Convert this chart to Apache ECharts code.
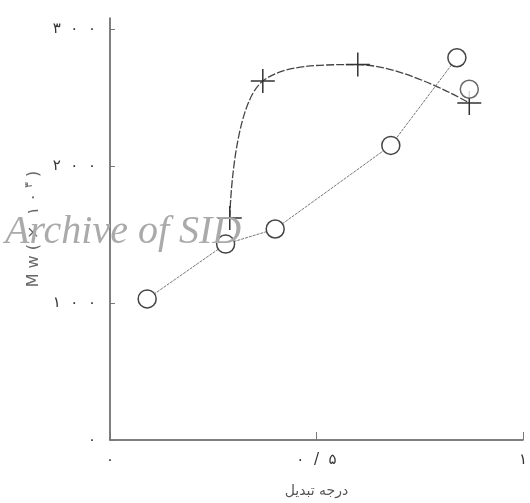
<!DOCTYPE html>
<html>
<head>
<meta charset="utf-8">
<script src="https://cdn.jsdelivr.net/npm/echarts@6/dist/echarts.min.js"></script>
<style>
  html, body { margin: 0; padding: 0; background: #fff; }
  #chart { width: 530px; height: 503px; }
</style>
</head>
<body>
<div id="chart"></div>
<script>
// Molecular weight against degree of conversion
const circleX = [0.09, 0.28, 0.40, 0.68, 0.84, 0.87];
const circleY = [103, 143, 154, 215, 279, 256];
const circleJoined = 5;            // first five circles are joined by a line

const crossX = [0.29, 0.37, 0.60, 0.87];
const crossY = [162, 262, 274, 246];

const xTickValues = [0, 0.5, 1];
const xTickLabels = ['۰', '۰/۵', '۱'];
const yTickValues = [0, 100, 200, 300];
const yTickLabels = ['۰', '۱۰۰', '۲۰۰', '۳۰۰'];

const xTitle = 'درجه تبدیل';
const watermark = 'Archive of SID';

const pairs = (xs, ys) => xs.map((x, i) => [x, ys[i]]);
const circles = pairs(circleX, circleY);
const crosses = pairs(crossX, crossY);

const spaced = s => s.split('').join('  ');
const font = '"DejaVu Sans", "Noto Sans", sans-serif';

const chart = echarts.init(document.getElementById('chart'));
chart.setOption({
  animation: false,
  backgroundColor: '#fff',
  grid: { left: 110, right: 5, top: 18, bottom: 62 },
  xAxis: {
    type: 'value', min: 0, max: 1, interval: 0.5,
    name: xTitle, nameLocation: 'middle', nameGap: 44,
    nameTextStyle: { fontFamily: font, fontSize: 14, color: '#555' },
    axisLine: { lineStyle: { color: '#555', width: 1.5 } },
    axisTick: { inside: true, length: 8, lineStyle: { color: '#777' }, customValues: xTickValues },
    axisLabel: {
      margin: 13, fontFamily: font, fontSize: 15, color: '#333',
      customValues: xTickValues,
      formatter: v => spaced(xTickLabels[xTickValues.indexOf(v)] || '')
    },
    splitLine: { show: false }
  },
  yAxis: {
    type: 'value', min: 0, max: 308,
    name: '{a|M w ( ×  ۱ ۰ }{s|۳}{a| )}', nameLocation: 'middle', nameRotate: 90, nameGap: 66,
    nameTextStyle: {
      rich: {
        a: { fontFamily: font, fontSize: 16, color: '#666', lineHeight: 20 },
        s: { fontFamily: font, fontSize: 11, color: '#666', verticalAlign: 'top', lineHeight: 20 }
      }
    },
    axisLine: { lineStyle: { color: '#555', width: 1.5 } },
    axisTick: { inside: true, length: 5, lineStyle: { color: '#777' }, customValues: yTickValues },
    axisLabel: {
      margin: 14, fontFamily: font, fontSize: 15, color: '#333',
      customValues: yTickValues,
      formatter: v => spaced(yTickLabels[yTickValues.indexOf(v)] || '')
    },
    splitLine: { show: false }
  },
  series: [
    {
      type: 'line',
      data: crosses,
      smooth: 0.4,
      symbol: 'path://M0,12L24,12M12,0L12,24',
      symbolSize: 24,
      showAllSymbol: true,
      itemStyle: { color: 'none', borderColor: '#333', borderWidth: 1.5 },
      lineStyle: { color: '#444', width: 1.3, type: [8, 2] },
      z: 3
    },
    {
      type: 'line',
      data: circles.slice(0, circleJoined),
      symbol: 'circle',
      symbolSize: 18,
      showAllSymbol: true,
      itemStyle: { color: '#fff', borderColor: '#444', borderWidth: 1.5 },
      lineStyle: { color: '#777', width: 1, type: [3, 1] },
      z: 4
    },
    {
      type: 'scatter',
      data: circles.slice(circleJoined),
      symbol: 'circle',
      symbolSize: 18,
      itemStyle: { color: '#fff', borderColor: '#444', borderWidth: 1.5 },
      z: 4
    }
  ],
  graphic: [{
    type: 'text',
    left: 5, top: 212,
    z: 100,
    style: {
      text: watermark,
      font: 'italic 40px "Liberation Serif", "DejaVu Serif", serif',
      fill: '#aaa'
    }
  }]
});
</script>
</body>
</html>
